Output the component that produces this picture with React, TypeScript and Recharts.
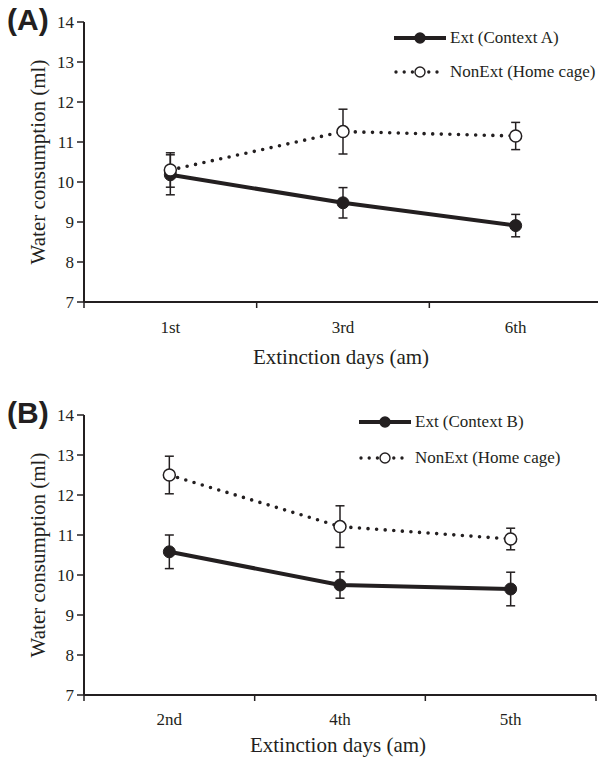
import React from 'react';
import { LineChart, Line, XAxis, YAxis, ErrorBar } from 'recharts';

// panel A
const daysA = ['1st', '3rd', '6th'];
const extA = [10.18, 9.48, 8.91];
const extErrA = [0.5, 0.38, 0.28];
const homeA = [10.3, 11.26, 11.15];
const homeErrA = [0.43, 0.56, 0.34];

// panel B
const daysB = ['2nd', '4th', '5th'];
const extB = [10.58, 9.75, 9.65];
const extErrB = [0.42, 0.33, 0.42];
const homeB = [12.5, 11.21, 10.9];
const homeErrB = [0.47, 0.52, 0.27];

const yTicks = [7, 8, 9, 10, 11, 12, 13, 14];

const INK = '#231f20';
const SERIF = '"Liberation Serif", "Times New Roman", serif';

const buildRows = (days: string[], ext: number[], extErr: number[], home: number[], homeErr: number[]) =>
  days.map((d, i) => ({ x: i + 0.5, day: d, ext: ext[i], extErr: extErr[i], home: home[i], homeErr: homeErr[i] }));

const XTick = (props: any) => {
  const { x, y, payload, days, labelDy } = props;
  const v = payload.value;
  if (Number.isInteger(v)) {
    return <line x1={x} y1={y} x2={x} y2={y + 6} stroke={INK} strokeWidth={1.5} />;
  }
  return (
    <text x={x} y={y + labelDy} textAnchor="middle" fontFamily={SERIF} fontSize={17} fill={INK}>
      {days[Math.floor(v)]}
    </text>
  );
};

const LegendKey = ({ dotted }: { dotted: boolean }) => (
  <svg width={52} height={16} style={{ display: 'block' }}>
    {dotted ? (
      <line x1={2} y1={8} x2={50} y2={8} stroke={INK} strokeWidth={3.4} strokeDasharray="0 8.2" strokeLinecap="round" />
    ) : (
      <line x1={0} y1={8} x2={52} y2={8} stroke={INK} strokeWidth={4} />
    )}
    <circle cx={26} cy={8} r={5} fill={dotted ? '#fff' : INK} stroke={INK} strokeWidth={1.4} />
  </svg>
);

type PanelProps = {
  tag: string;
  days: string[];
  ext: number[];
  extErr: number[];
  home: number[];
  homeErr: number[];
  extName: string;
  width: number;
  height: number;
  rightMargin: number;
  tickDy: number;
  titleDy: number;
  legendLeft: number;
  legendTop: number;
  legendGap: number;
};

const Panel = (p: PanelProps) => {
  const rows = buildRows(p.days, p.ext, p.extErr, p.home, p.homeErr);
  const xTicks: number[] = [];
  for (let i = 0; i <= p.days.length * 2; i++) xTicks.push(i / 2);
  return (
    <div style={{ position: 'relative', width: p.width, height: p.height }}>
      <LineChart width={p.width} height={p.height} data={rows} margin={{ top: 22, right: p.rightMargin, left: 0, bottom: 0 }}>
        <XAxis
          dataKey="x"
          type="number"
          domain={[0, p.days.length]}
          ticks={xTicks}
          interval={0}
          height={p.height - 22 - 280}
          axisLine={{ stroke: INK, strokeWidth: 2 }}
          tickLine={false}
          tickSize={0}
          tickMargin={0}
          tick={<XTick days={p.days} labelDy={p.tickDy} />}
          label={({ viewBox }: any) => (
            <text x={viewBox.x + viewBox.width / 2 - 2} y={viewBox.y + p.titleDy} textAnchor="middle" fontFamily={SERIF} fontSize={21} fill={INK}>
              Extinction days (am)
            </text>
          )}
        />
        <YAxis
          type="number"
          domain={[7, 14]}
          ticks={yTicks}
          width={84}
          axisLine={{ stroke: INK, strokeWidth: 2 }}
          tickLine={{ stroke: INK, strokeWidth: 1.5 }}
          tickSize={7}
          tickMargin={3}
          tick={{ fontFamily: SERIF, fontSize: 17, fill: INK }}
          label={({ viewBox }: any) => {
            const cy = viewBox.y + viewBox.height / 2;
            return (
              <text x={45} y={cy} transform={`rotate(-90 45 ${cy})`} textAnchor="middle" fontFamily={SERIF} fontSize={21} fill={INK}>
                Water consumption (ml)
              </text>
            );
          }}
        />
        <Line
          dataKey="ext"
          stroke={INK}
          strokeWidth={4}
          isAnimationActive={false}
          dot={{ r: 6, fill: INK, stroke: INK, strokeWidth: 1 }}
          activeDot={false}
        >
          <ErrorBar dataKey="extErr" direction="y" width={4.5} stroke={INK} strokeWidth={1.5} />
        </Line>
        <Line
          dataKey="home"
          stroke={INK}
          strokeWidth={3.6}
          strokeDasharray="0 8.6"
          strokeLinecap="round"
          isAnimationActive={false}
          dot={{ r: 6, fill: '#fff', stroke: INK, strokeWidth: 1.5, strokeDasharray: 'none' }}
          activeDot={false}
        >
          <ErrorBar dataKey="homeErr" direction="y" width={4.5} stroke={INK} strokeWidth={1.5} />
        </Line>
      </LineChart>
      <div
        style={{
          position: 'absolute',
          left: 7,
          top: 1,
          fontFamily: '"Liberation Sans", Arial, sans-serif',
          fontWeight: 'bold',
          fontSize: 30,
          color: INK,
          lineHeight: '38px',
        }}
      >
        {p.tag}
      </div>
      <div style={{ position: 'absolute', left: p.legendLeft, top: p.legendTop, fontFamily: SERIF, fontSize: 17, color: INK }}>
        {[
          { name: p.extName, dotted: false },
          { name: 'NonExt (Home cage)', dotted: true },
        ].map((item, i) => (
          <div key={item.name} style={{ display: 'flex', alignItems: 'center', height: 16, marginTop: i === 0 ? 0 : p.legendGap }}>
            <LegendKey dotted={item.dotted} />
            <span style={{ marginLeft: 4, whiteSpace: 'nowrap', lineHeight: '16px' }}>{item.name}</span>
          </div>
        ))}
      </div>
    </div>
  );
};

export default function App() {
  return (
    <div style={{ position: 'absolute', left: 0, top: 0, width: 598, height: 757, overflow: 'hidden', background: '#fff' }}>
      <Panel
        tag="(A)"
        days={daysA}
        ext={extA}
        extErr={extErrA}
        home={homeA}
        homeErr={homeErrA}
        extName="Ext (Context A)"
        width={602}
        height={380}
        rightMargin={0}
        tickDy={31}
        titleDy={62}
        legendLeft={394}
        legendTop={30}
        legendGap={18}
      />
      <div style={{ position: 'absolute', left: 0, top: 393 }}>
        <Panel
          tag="(B)"
          days={daysB}
          ext={extB}
          extErr={extErrB}
          home={homeB}
          homeErr={homeErrB}
          extName="Ext (Context B)"
          width={598}
          height={364}
          rightMargin={2}
          tickDy={30}
          titleDy={57}
          legendLeft={359}
          legendTop={21}
          legendGap={20}
        />
      </div>
    </div>
  );
}
